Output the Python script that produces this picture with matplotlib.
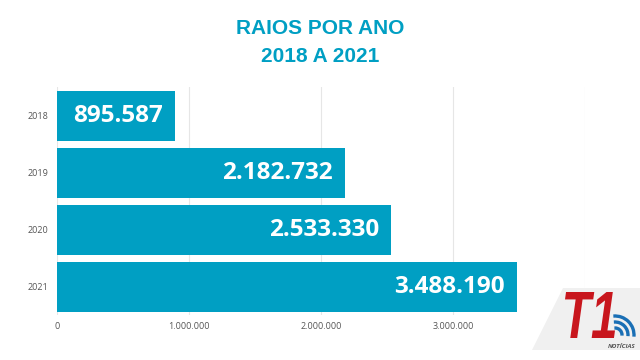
import matplotlib.pyplot as plt
from matplotlib.patches import Polygon, Arc, PathPatch
from matplotlib.textpath import TextPath
from matplotlib.font_manager import FontProperties
from matplotlib.transforms import Affine2D
from matplotlib.ticker import FuncFormatter

years = ["2018", "2019", "2020", "2021"]
raios = [895587, 2182732, 2533330, 3488190]
ticks = [0, 1000000, 2000000, 3000000, 4000000]

blue = "#009fc3"
plt.rcParams['font.family'] = ['Open Sans', 'DejaVu Sans']

fig = plt.figure(figsize=(6.4, 3.6), dpi=100)
ax = fig.add_axes([0.089, 0.124, 0.825, 0.633])

def fmt(v):
    return f"{int(v):,}".replace(",", ".")

y = range(len(years))
ax.barh(y, raios, height=0.88, color=blue, zorder=3)
for i, v in enumerate(raios):
    ax.text(v - 95000, i, fmt(v), color="white", fontsize=17.5, fontweight="bold",
            ha="right", va="center", zorder=4)

ax.set_yticks(list(y))
ax.set_yticklabels(years)
ax.set_ylim(3.5, -0.5)
ax.set_xlim(0, 4000000)
ax.set_xticks(ticks[:-1])
ax.xaxis.set_major_formatter(FuncFormatter(lambda v, p: fmt(v)))
ax.grid(axis="x", color="#e6e6e6", linewidth=0.8, zorder=0)
ax.axvline(4000000, color="#e6e6e6", linewidth=0.8, zorder=0)
for s in ax.spines.values():
    s.set_visible(False)
ax.tick_params(length=0, labelsize=6.5, colors="#555555")
ax.tick_params(axis="y", pad=6)
ax.tick_params(axis="x", pad=5)

fig.text(0.5, 0.922, "RAIOS POR ANO", ha="center", va="center", color=blue,
         fontsize=15, fontweight="bold", family="Liberation Sans")
fig.text(0.5, 0.842, "2018 A 2021", ha="center", va="center", color=blue,
         fontsize=15, fontweight="bold", family="Liberation Sans")

# logo (pixel coordinates -> figure fraction)
px = Affine2D().scale(1 / 640, 1 / 360) + fig.transFigure
fig.patches.append(Polygon([[563, 72], [640, 72], [640, 10], [532, 10]],
                           closed=True, transform=px,
                           facecolor="#f0f0f0", edgecolor="none"))
tp = TextPath((0, 0), "T1", size=1,
              prop=FontProperties(family="Liberation Sans", weight="bold", style="italic"))
ext = tp.get_extents()
sx = 50 / ext.width
sy = 46 / ext.height
t = Affine2D().translate(-ext.x0, -ext.y0).scale(sx, sy).translate(565, 22)
fig.patches.append(PathPatch(t.transform_path(tp), transform=px,
                             facecolor="#c8161d", edgecolor="none"))
for r in [7, 13, 19]:
    fig.patches.append(Arc((615, 25), 2 * r, 2 * r, theta1=-5, theta2=95,
                           transform=px, color="#1a6fb5", linewidth=2.4))
fig.text(622 / 640, 13 / 360, "NOTÍCIAS", ha="center", va="center", color="#555555",
         fontsize=4.5, fontweight="bold", style="italic")

fig.savefig("out.png", dpi=100)
